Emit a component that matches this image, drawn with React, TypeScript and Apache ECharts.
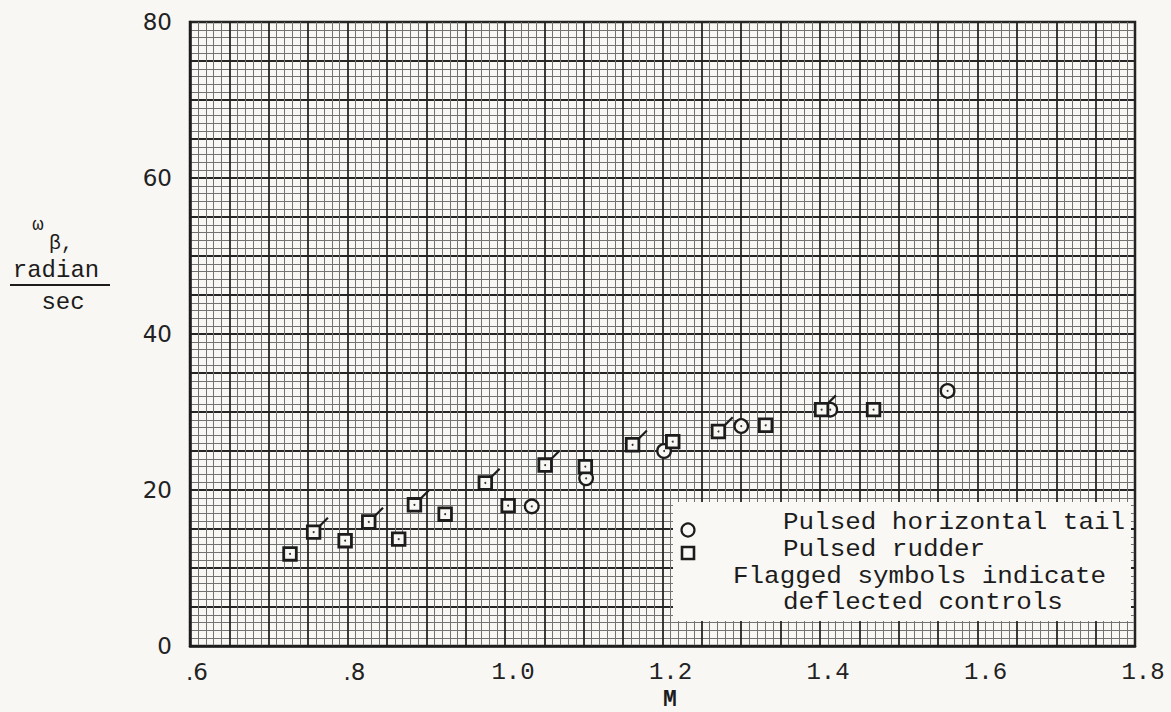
import React, { useEffect, useRef } from "react";
import * as echarts from "echarts";

// Pulsed horizontal tail (circles)
const tailM = [1.034, 1.103, 1.202, 1.3, 1.413, 1.562];
const tailW = [17.9, 21.5, 25.0, 28.2, 30.3, 32.7];

// Pulsed rudder (squares); 1 = flagged (deflected controls)
const rudderM = [0.727, 0.757, 0.797, 0.827, 0.865, 0.885, 0.924, 0.975, 1.004, 1.051, 1.102, 1.162, 1.213, 1.271, 1.331, 1.402, 1.468];
const rudderW = [11.8, 14.6, 13.5, 15.9, 13.7, 18.1, 16.9, 20.9, 18.0, 23.2, 23.0, 25.8, 26.2, 27.5, 28.3, 30.3, 30.3];
const rudderFlag = [0, 1, 0, 1, 0, 1, 0, 1, 0, 1, 0, 1, 0, 1, 0, 1, 0];

const legendLines = [
  "Pulsed horizontal tail",
  "Pulsed rudder",
  "Flagged symbols indicate",
  "deflected controls",
];

const BG = "#f8f7f3";
const INK = "#1c1c1c";
const MONO = "Liberation Mono";
const SANS = "DejaVu Sans";

export default function App() {
  const ref = useRef<HTMLDivElement>(null);

  useEffect(() => {
    if (!ref.current) return;
    const chart = echarts.init(ref.current, undefined, { renderer: "svg" });

    const tailData = tailM.map((m, i) => [m, tailW[i]]);
    const rudderData = rudderM.map((m, i) => [m, rudderW[i], rudderFlag[i]]);

    const legendText = (i: number, x: number, y: number) => ({
      type: "text",
      z: 101,
      x,
      y,
      scaleX: 1.08,
      style: { text: legendLines[i], font: `24px "${MONO}"`, fill: INK, textVerticalAlign: "middle" },
    });

    const option: any = {
      animation: false,
      backgroundColor: BG,
      grid: {
        left: 190,
        top: 22,
        right: 36,
        bottom: 66,
        show: true,
        borderColor: INK,
        borderWidth: 2.5,
      },
      xAxis: {
        type: "value",
        min: 0.6,
        max: 1.8,
        interval: 0.05,
        axisLine: { show: true, lineStyle: { color: INK, width: 2.5 } },
        axisTick: { show: false },
        minorTick: { show: false, splitNumber: 5 },
        splitLine: { show: true, lineStyle: { color: "#252525", width: 1.8 } },
        minorSplitLine: { show: true, lineStyle: { color: "#727272", width: 1 } },
        axisLabel: {
          margin: 14,
          color: "#222",
          formatter: (v: number) => {
            const k = Math.round(v * 100);
            if (k % 20 !== 0) return "";
            const s = (k / 100).toFixed(1);
            return v < 1 ? "{s|" + s.slice(1) + "}" : "{m|" + s + "}";
          },
          rich: {
            s: { fontFamily: SANS, fontSize: 23, color: "#222", padding: [0, 0, 0, 14] },
            m: { fontFamily: MONO, fontSize: 24, color: "#222", padding: [0, 0, 0, 16] },
          },
        },
      },
      yAxis: {
        type: "value",
        min: 0,
        max: 80,
        interval: 5,
        axisLine: { show: true, lineStyle: { color: INK, width: 2.5 } },
        axisTick: { show: false },
        minorTick: { show: false, splitNumber: 5 },
        splitLine: { show: true, lineStyle: { color: "#252525", width: 1.8 } },
        minorSplitLine: { show: true, lineStyle: { color: "#727272", width: 1 } },
        axisLabel: {
          margin: 18,
          fontFamily: SANS,
          fontSize: 23,
          color: "#222",
          formatter: (v: number) => (Math.round(v) % 20 === 0 ? String(Math.round(v)) : ""),
        },
      },
      series: [
        {
          name: "Pulsed horizontal tail",
          type: "custom",
          data: tailData,
          encode: { x: 0, y: 1 },
          z: 5,
          renderItem: (params: any, api: any) => {
            const p = api.coord([api.value(0), api.value(1)]);
            return {
              type: "group",
              children: [
                { type: "circle", shape: { cx: p[0], cy: p[1], r: 6.8 }, style: { fill: BG, stroke: INK, lineWidth: 2.3 } },
                { type: "circle", shape: { cx: p[0], cy: p[1], r: 1 }, style: { fill: "#333" } },
              ],
            };
          },
        },
        {
          name: "Pulsed rudder",
          type: "custom",
          data: rudderData,
          encode: { x: 0, y: 1 },
          z: 6,
          renderItem: (params: any, api: any) => {
            const p = api.coord([api.value(0), api.value(1)]);
            const h = 6.3;
            const children: any[] = [
              { type: "rect", shape: { x: p[0] - h, y: p[1] - h, width: 2 * h, height: 2 * h }, style: { fill: BG, stroke: INK, lineWidth: 2.8 } },
              { type: "circle", shape: { cx: p[0], cy: p[1], r: 1 }, style: { fill: "#333" } },
            ];
            if (api.value(2)) {
              children.push({
                type: "line",
                shape: { x1: p[0] + h, y1: p[1] - h, x2: p[0] + h + 8, y2: p[1] - h - 8 },
                style: { stroke: INK, lineWidth: 2.2 },
              });
            }
            return { type: "group", children };
          },
        },
      ],
      graphic: [
        // legend box
        { type: "rect", z: 100, shape: { x: 673, y: 502, width: 458, height: 119 }, style: { fill: "#f9f8f5" } },
        { type: "circle", z: 101, shape: { cx: 688, cy: 530, r: 6.5 }, style: { fill: "none", stroke: INK, lineWidth: 2.2 } },
        { type: "rect", z: 101, shape: { x: 682, y: 547, width: 12, height: 12 }, style: { fill: "none", stroke: INK, lineWidth: 2.6 } },
        legendText(0, 783, 522),
        legendText(1, 783, 549),
        legendText(2, 733, 576),
        legendText(3, 783, 602),
        // y-axis title
        { type: "text", z: 101, x: 38, y: 225, style: { text: "ω", font: `19px "${MONO}"`, fill: INK, textAlign: "center", textVerticalAlign: "middle" } },
        { type: "text", z: 101, x: 61, y: 243, style: { text: "β,", font: `20px "${MONO}"`, fill: INK, textAlign: "center", textVerticalAlign: "middle" } },
        { type: "text", z: 101, x: 56, y: 270, style: { text: "radian", font: `24px "${MONO}"`, fill: INK, textAlign: "center", textVerticalAlign: "middle" } },
        { type: "line", z: 101, shape: { x1: 10, y1: 285, x2: 110, y2: 285 }, style: { stroke: INK, lineWidth: 2 } },
        { type: "text", z: 101, x: 63, y: 302, style: { text: "sec", font: `24px "${MONO}"`, fill: INK, textAlign: "center", textVerticalAlign: "middle" } },
        // x-axis title
        { type: "text", z: 101, x: 670, y: 700, style: { text: "M", font: `bold 23px "${MONO}"`, fill: INK, textAlign: "center", textVerticalAlign: "middle" } },
      ],
    };

    chart.setOption(option);
    return () => chart.dispose();
  }, []);

  return (
    <div
      style={{ position: "absolute", left: 0, top: 0, width: 1171, height: 712, background: BG }}
    >
      <div ref={ref} style={{ width: 1171, height: 712 }} />
    </div>
  );
}
